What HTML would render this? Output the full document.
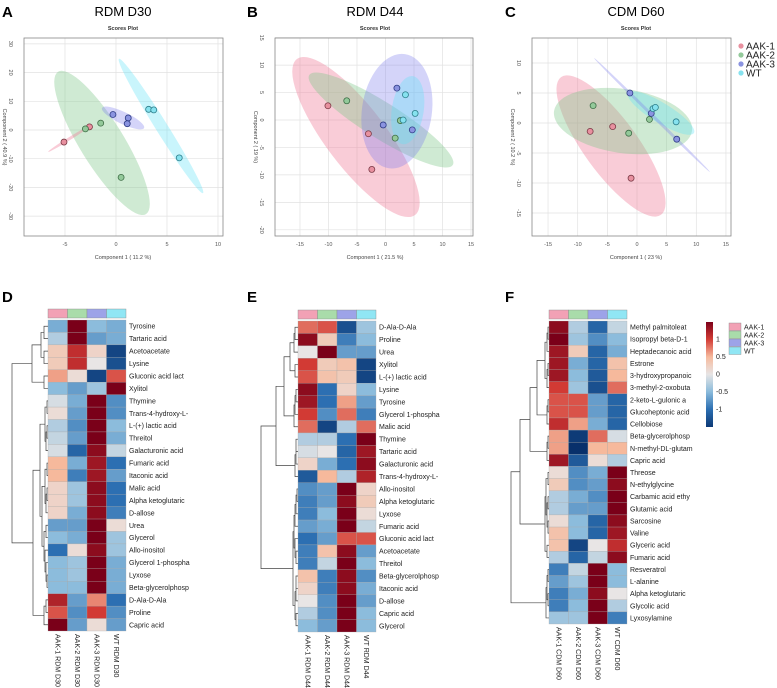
<!DOCTYPE html>
<html><head><meta charset="utf-8"><style>
html,body{margin:0;padding:0;background:#fff;}
svg{display:block;font-family:"Liberation Sans",sans-serif;}
</style></head><body>
<svg id="fig" width="777" height="688" viewBox="0 0 777 688" xmlns="http://www.w3.org/2000/svg">
<text x="2" y="17" font-size="15" font-weight="bold">A</text>
<text x="247" y="17" font-size="15" font-weight="bold">B</text>
<text x="505" y="17" font-size="15" font-weight="bold">C</text>
<text x="2" y="302" font-size="15" font-weight="bold">D</text>
<text x="247" y="302" font-size="15" font-weight="bold">E</text>
<text x="505" y="302" font-size="15" font-weight="bold">F</text>
<g id="layer"></g>
</svg>
<script>
// ---------- Scatter data ----------
const groups = ["AAK-1","AAK-2","AAK-3","WT"];
const aXTicks = [-5,0,5,10];
const aYTicks = [-30,-20,-10,0,10,20,30];
const aX = [-5.1,-2.6,-3.0,-1.5,0.5,-0.3,1.2,1.1,3.2,3.7,6.2];
const aY = [-4.2,1.1,0.4,2.4,-16.5,5.4,4.2,2.2,7.2,7.0,-9.7];
const aG = [0,0,1,1,1,2,2,2,3,3,3];
const aEll = [[-1.37,-4.5,2.94,-29.3,22,1],[4.41,1.39,8.53,-22,6,3],[0.69,4.2,2.75,0.7,6,2],[-4.6,-3.1,-2.55,1.4,1.5,0]];

const bXTicks = [-15,-10,-5,0,5,10,15];
const bYTicks = [-20,-15,-10,-5,0,5,10,15];
const bX = [-10.1,-3.0,-2.4,-6.8,1.7,2.6,-0.4,2.0,4.7,3.5,5.2,3.1];
const bY = [2.6,-2.5,-9.0,3.5,-3.3,-0.1,-0.9,5.8,-1.8,4.6,1.2,0.0];
const bG = [0,0,0,1,1,1,2,2,2,3,3,3];
const bEll = [[-5.18,-3.1,5.18,-17.3,30,0],[-0.79,0,11.8,-8.2,18,1],[2.0,1.6,3.4,12.0,35,2],[3.9,1.8,4.8,8.0,16,3]];

const cXTicks = [-15,-10,-5,0,5,10,15];
const cYTicks = [-15,-10,-5,0,5,10];
const cX = [-7.9,-4.1,-1.0,-7.4,-1.4,2.1,-1.2,2.4,6.7,2.7,3.1,6.6];
const cY = [-1.4,-0.6,-9.2,2.9,-1.7,0.6,5.0,1.6,-2.7,2.4,2.6,0.2];
const cG = [0,0,0,1,1,1,2,2,2,3,3,3];
const cEll = [[-4.38,-3.83,4.05,-15.3,27,0],[-2.36,0.33,9.27,-1.33,32,1],[4.05,1.67,9.6,-1.67,10,3],[2.53,1.33,12.3,-8.17,1.5,2]];

// ---------- Heatmap data ----------
const dRows = ["Tyrosine","Tartaric acid","Acetoacetate","Lysine","Gluconic acid lact","Xylitol","Thymine","Trans-4-hydroxy-L-","L-(+) lactic acid","Threitol","Galacturonic acid","Fumaric acid","Itaconic acid","Malic acid","Alpha ketoglutaric","D-allose","Urea","Glycerol","Allo-inositol","Glycerol 1-phospha","Lyxose","Beta-glycerolphosp","D-Ala-D-Ala","Proline","Capric acid"];
const dCols = ["AAK-1 RDM D30","AAK-2 RDM D30","AAK-3 RDM D30","WT RDM D30"];
const dVals = [[-0.6,1.5,-0.5,-0.6],[-0.3,1.5,-0.7,-0.6],[0.3,1.1,0.2,-1.4],[0.3,1.1,0.0,-1.3],[0.6,0.1,-1.4,0.9],[-0.5,-0.7,-0.4,1.5],[-0.1,-0.6,1.5,-0.8],[0.1,-0.7,1.5,-0.8],[-0.3,-0.8,1.5,-0.5],[-0.2,-0.7,1.5,-0.6],[-0.1,-1.1,1.4,-0.2],[0.5,-0.6,1.3,-1.0],[0.5,-0.9,1.3,-0.7],[0.2,-0.4,1.4,-1.0],[0.2,-0.4,1.4,-1.0],[0.2,-0.6,1.4,-0.9],[-0.7,-0.7,1.5,0.1],[-0.5,-0.6,1.5,-0.4],[-1.0,0.1,1.4,-0.4],[-0.5,-0.4,1.5,-0.6],[-0.5,-0.4,1.5,-0.6],[-0.5,-0.5,1.5,-0.6],[1.2,-0.7,0.7,-1.0],[0.9,-0.8,1.0,-0.8],[1.5,-0.7,0.1,-0.7]];
const eRows = ["D-Ala-D-Ala","Proline","Urea","Xylitol","L-(+) lactic acid","Lysine","Tyrosine","Glycerol 1-phospha","Malic acid","Thymine","Tartaric acid","Galacturonic acid","Trans-4-hydroxy-L-","Allo-inositol","Alpha ketoglutaric","Lyxose","Fumaric acid","Gluconic acid lact","Acetoacetate","Threitol","Beta-glycerolphosp","Itaconic acid","D-allose","Capric acid","Glycerol"];
const eCols = ["AAK-1 RDM D44","AAK-2 RDM D44","AAK-3 RDM D44","WT RDM D44"];
const eVals = [[0.8,0.9,-1.3,-0.4],[1.4,0.3,-0.9,-0.5],[0.0,1.5,-0.7,-0.7],[1.0,0.3,0.4,-1.4],[0.9,0.4,0.3,-1.4],[1.4,-1.0,0.2,-0.5],[1.3,-1.0,0.6,-0.7],[1.0,-0.8,0.8,-0.9],[0.8,-1.4,-0.3,0.8],[-0.3,-0.3,-1.0,1.5],[-0.1,0.0,-1.1,1.3],[0.2,-0.6,-1.0,1.4],[-1.2,0.5,-0.3,1.2],[-0.8,-0.7,1.5,0.2],[-0.9,-0.7,1.4,0.3],[-0.9,-0.5,1.5,0.1],[-0.7,-0.6,1.5,-0.2],[-1.0,-0.7,0.9,0.9],[-0.9,0.4,1.4,-0.7],[-0.9,-0.2,1.5,-0.5],[0.4,-0.9,1.4,-0.8],[0.2,-0.9,1.4,-0.6],[0.0,-0.8,1.5,-0.7],[-0.3,-0.8,1.5,-0.5],[-0.5,-0.7,1.5,-0.5]];
const fRows = ["Methyl palmitoleat","Isopropyl beta-D-1","Heptadecanoic acid","Estrone","3-hydroxypropanoic","3-methyl-2-oxobuta","2-keto-L-gulonic a","Glucoheptonic acid","Cellobiose","Beta-glycerolphosp","N-methyl-DL-glutam","Capric acid","Threose","N-ethylglycine","Carbamic acid ethy","Glutamic acid","Sarcosine","Valine","Glyceric acid","Fumaric acid","Resveratrol","L-alanine","Alpha ketoglutaric","Glycolic acid","Lyxosylamine"];
const fCols = ["AAK-1 CDM D60","AAK-2 CDM D60","AAK-3 CDM D60","WT CDM D60"];
const fVals = [[1.4,-0.3,-1.1,-0.2],[1.5,-0.4,-0.8,-0.5],[1.3,0.3,-1.1,-0.6],[1.3,-0.6,-1.1,0.4],[1.3,-0.5,-1.2,0.5],[1.0,-0.4,-1.3,0.8],[0.9,0.9,-0.7,-1.1],[0.9,0.9,-0.7,-1.1],[1.1,0.6,-0.6,-1.1],[0.6,-1.5,0.8,-0.1],[0.6,-1.6,0.5,0.5],[1.3,-1.2,0.1,-0.3],[0.1,-0.8,-0.6,1.5],[0.3,-0.8,-0.7,1.4],[-0.3,-0.6,-0.8,1.5],[-0.3,-0.7,-0.7,1.5],[0.1,-0.5,-1.1,1.4],[0.4,-0.5,-1.1,1.3],[0.4,-1.4,0.0,1.1],[-0.3,-1.1,-0.2,1.4],[-0.9,-0.2,1.5,-0.5],[-0.7,-0.4,1.5,-0.5],[-0.9,-0.6,1.4,0.0],[-0.9,-0.5,1.5,-0.3],[-0.4,-0.4,1.5,-0.9]];
const cbTicks = [1,0.5,0,-0.5,-1];
const cbLabels = ["1","0.5","0","-0.5","-1"];

// ---------- helpers ----------
const NS="http://www.w3.org/2000/svg";
const layer=document.getElementById('layer');
function mk(tag,attrs,parent,txt){const e=document.createElementNS(NS,tag);for(const k in attrs)e.setAttribute(k,attrs[k]);if(txt!==undefined)e.textContent=txt;(parent||layer).appendChild(e);return e;}
const ptFill=["#e8909f","#93c99a","#8a93e0","#86e2ef"];
const ptStroke=["#7b3a46","#3e6e46","#2f3c86","#2e7f8c"];
const ellFill=["rgba(240,120,150,0.38)","rgba(130,200,140,0.38)","rgba(120,120,235,0.32)","rgba(100,225,245,0.35)"];

function scatter(p){
  const g=mk('g',{});
  
  
  const sx=v=>p.x0+p.kx*v, sy=v=>p.y0-p.ky*v;
  const t=mk('text',{x:p.cx,y:16,'font-size':13,'text-anchor':'middle'},g,p.title);
  
  const st=mk('text',{x:p.cx,y:30,'font-size':5.5,'font-weight':'bold','text-anchor':'middle',fill:'#333'},g,'Scores Plot');
  
  p.xt.forEach(v=>{const l=mk('line',{x1:sx(v),x2:sx(v),y1:p.top,y2:p.bot,stroke:'#e2e2e2','stroke-width':0.7},g);
    const tl=mk('text',{x:sx(v),y:p.bot+10,'font-size':5.5,'text-anchor':'middle',fill:'#555'},g,String(v));});
  p.yt.forEach(v=>{const l=mk('line',{x1:p.left,x2:p.right,y1:sy(v),y2:sy(v),stroke:'#e2e2e2','stroke-width':0.7},g);
    const tl=mk('text',{x:p.left-15,y:sy(v),'font-size':5.5,'text-anchor':'middle',fill:'#555',transform:`rotate(90 ${p.left-15} ${sy(v)})`},g,String(v));});
  p.ell.forEach(e=>{const cx=sx(e[0]),cy=sy(e[1]),ex=sx(e[2]),ey=sy(e[3]);const L=Math.hypot(ex-cx,ey-cy);const ang=Math.atan2(ey-cy,ex-cx)*180/Math.PI;
    const el=mk('ellipse',{cx:cx,cy:cy,rx:L,ry:e[4],fill:ellFill[e[5]],transform:`rotate(${ang} ${cx} ${cy})`},g);
    });
  const bx=mk('rect',{x:p.left,y:p.top,width:p.right-p.left,height:p.bot-p.top,fill:'none',stroke:'#888','stroke-width':0.8},g);
  
  p.X.forEach((v,i)=>{const c=mk('circle',{cx:sx(v),cy:sy(p.Y[i]),r:3,fill:ptFill[p.G[i]],stroke:ptStroke[p.G[i]],'stroke-width':0.8},g);
    });
  const xtt=mk('text',{x:p.cx,y:p.bot+23,'font-size':5.5,'text-anchor':'middle',fill:'#444'},g,p.xtitle);
  
  const yx=p.left-21,yy=(p.top+p.bot)/2;
  const ytt=mk('text',{x:yx,y:yy,'font-size':5.5,'text-anchor':'middle',fill:'#444',transform:`rotate(90 ${yx} ${yy})`},g,p.ytitle);
  
}
scatter({name:'scores-plot-rdm-d30',title:'RDM D30',cx:123,left:24,right:223,top:38,bot:236,x0:116,kx:10.2,y0:130,ky:2.87,xt:aXTicks,yt:aYTicks,X:aX,Y:aY,G:aG,ell:aEll,xtitle:'Component 1 ( 11.2 %)',ytitle:'Component 2 ( 40.9 %)'});
scatter({name:'scores-plot-rdm-d44',title:'RDM D44',cx:375,left:275,right:473,top:38,bot:236,x0:385.5,kx:5.7,y0:120,ky:5.49,xt:bXTicks,yt:bYTicks,X:bX,Y:bY,G:bG,ell:bEll,xtitle:'Component 1 ( 21.5 %)',ytitle:'Component 2 ( 19 %)'});
scatter({name:'scores-plot-cdm-d60',title:'CDM D60',cx:636,left:532,right:731,top:38,bot:236,x0:637,kx:5.93,y0:123,ky:6.0,xt:cXTicks,yt:cYTicks,X:cX,Y:cY,G:cG,ell:cEll,xtitle:'Component 1 ( 23 %)',ytitle:'Component 2 ( 10.2 %)'});

// scatter legend
groups.forEach((n,i)=>{const y=46+i*9;
  const c=mk('circle',{cx:741,cy:y,r:2.6,fill:ptFill[i]});
  const t=mk('text',{x:746,y:y+3.5,'font-size':10,fill:'#222'},undefined,n);});

// ---------- heatmaps ----------
const stops=[[-1.6,[8,48,107]],[-1,[44,111,178]],[-0.5,[140,188,220]],[0,[232,229,229]],[0.5,[246,185,156]],[1,[210,58,52]],[1.5,[122,0,25]]];
function col(v){if(v<=stops[0][0])return `rgb(${stops[0][1].join(',')})`;for(let i=1;i<stops.length;i++){if(v<=stops[i][0]){const a=stops[i-1],b=stops[i],t=(v-a[0])/(b[0]-a[0]);return `rgb(${a[1].map((c,k)=>Math.round(c+(b[1][k]-c)*t)).join(',')})`;}}return `rgb(${stops[stops.length-1][1].join(',')})`;}
const annoCols=["#f2a1b5","#a9dcaa","#9da3e8","#90e6f4"];
function heatmap(p){
  const g=mk('g',{});
  const cw=(p.right-p.left)/4, rh=(p.bot-p.top)/p.rows.length;
  annoCols.forEach((c,j)=>{const r=mk('rect',{x:p.left+j*cw,y:p.top-11,width:cw,height:9,fill:c,stroke:'#888','stroke-width':0.4},g);});
  p.vals.forEach((row,i)=>{row.forEach((v,j)=>{const r=mk('rect',{x:p.left+j*cw,y:p.top+i*rh,width:cw,height:rh,fill:col(v),stroke:'#a8a8a8','stroke-width':0.3},g);});
    const t=mk('text',{x:p.right+3,y:p.top+i*rh+rh/2+2.5,'font-size':7,fill:'#222'},g,p.rows[i]);});
  p.cols.forEach((c,j)=>{const x=p.left+j*cw+cw/2-2.5,y=p.bot+3;const t=mk('text',{x:x,y:y,'font-size':7,fill:'#222',transform:`rotate(90 ${x} ${y})`},g,c);});
  const d=[];
  function walk(n){if(typeof n==='number')return {x:p.left,y:p.top+n*rh+rh/2};if(!Array.isArray(n)||n.length<3)return null;const a=walk(n[0]),b=walk(n[1]);const x=n[2];if(!a||!b)return a||b;d.push(`M${a.x} ${a.y}H${x}V${b.y}H${b.x}`);return {x:x,y:(a.y+b.y)/2};}
  try{walk(p.tree);}catch(err){}
  const pa=mk('path',{d:d.join(''),fill:'none',stroke:'#444','stroke-width':0.7},g);
}
const dTree=[[[[0,1,44],[2,3,44],41],[4,5,44],32],[[[[6,7,47],[[8,9,47],10,46],45],[[[11,12,47],[[13,14,47],15,46],45],[[16,17,46],[18,[19,[20,21,47],46],45],44],42],40],[[22,23,46],24,44],33],12];
const eTree=[[[[[[0,1,295],2,294],[3,4,295],290],[[[5,6,296],7,295],8,294],284],[[[9,10,296],11,296],12,295],276],[[[[[13,14,297],15,296],16,295],[17,[18,19,296],295],294],[[[20,21,296],22,296],[23,24,296],295],293],261];
const fTree=[[[[[[[0,1,548],2,547],[[3,4,548],5,547],545],[[6,7,548],8,547],537],[[9,10,548],11,547],530],[[[12,13,548],[[14,15,548],[16,17,548],547],546],[18,19,547],545],520],[[[20,21,548],[22,23,548],547],24,546],511];
heatmap({name:'heatmap-rdm-d30',left:48,right:126,top:320,bot:631,rows:dRows,cols:dCols,vals:dVals,tree:dTree});
heatmap({name:'heatmap-rdm-d44',left:298,right:376,top:321,bot:632,rows:eRows,cols:eCols,vals:eVals,tree:eTree});
heatmap({name:'heatmap-cdm-d60',left:549,right:627,top:321,bot:624,rows:fRows,cols:fCols,vals:fVals,tree:fTree});

// color bar
const defs=mk('defs',{});const lg=mk('linearGradient',{id:'cbg',x1:0,y1:0,x2:0,y2:1},defs);
for(let k=0;k<=12;k++){const v=1.49-k*(3/12);mk('stop',{offset:(k/12),'stop-color':col(v)},lg);}
const cb=mk('rect',{x:706,y:322,width:7,height:105,fill:'url(#cbg)'});
const cbY=v=>374-v*35;
cbTicks.forEach((v,i)=>{const t=mk('text',{x:716,y:cbY(v)+2.5,'font-size':7,fill:'#222'},undefined,cbLabels[i]);});
groups.forEach((n,i)=>{const y=323+i*8;
  const r=mk('rect',{x:729,y:y,width:12,height:7.5,fill:annoCols[i],stroke:'#888','stroke-width':0.4});
  const t=mk('text',{x:744,y:y+6.5,'font-size':7,fill:'#222'},undefined,n);});
</script>
</body></html>
